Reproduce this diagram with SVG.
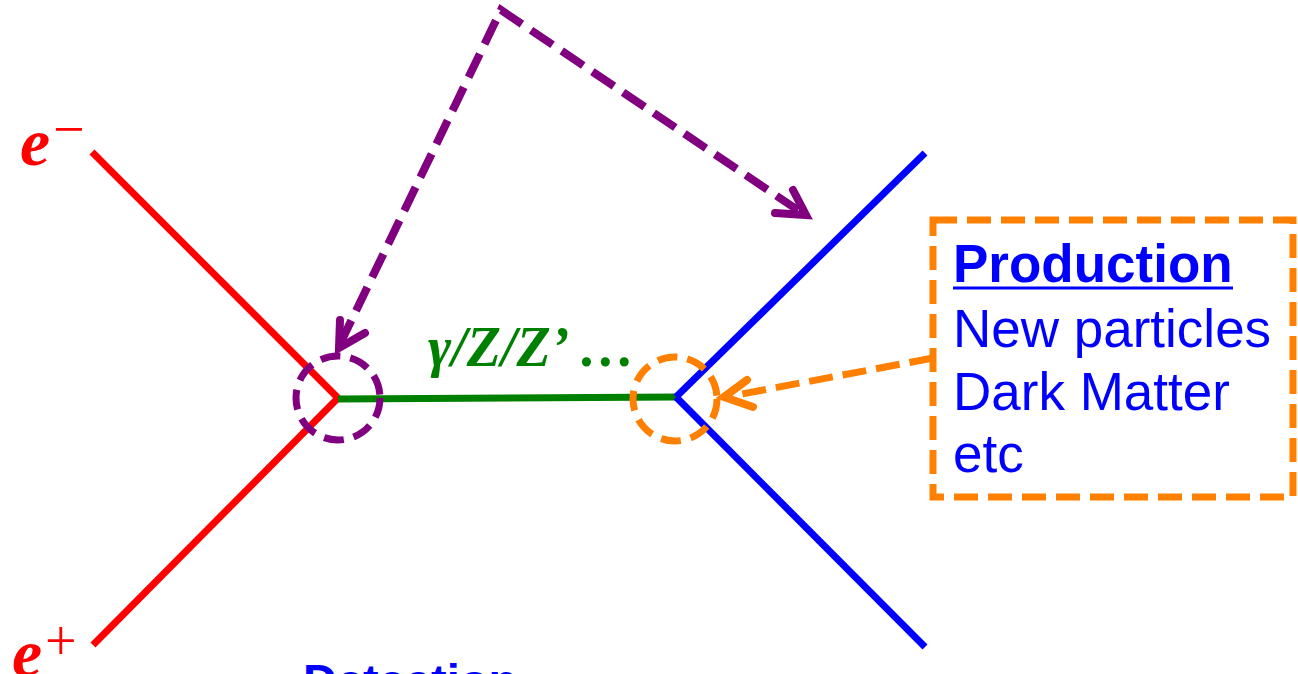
<svg xmlns="http://www.w3.org/2000/svg" width="1298" height="674" viewBox="0 0 1298 674">
<style>
.red{stroke:#FF0000;stroke-width:7;fill:none}
.blue{stroke:#0000FF;stroke-width:7;fill:none}
.green{stroke:#008000;stroke-width:7;fill:none}
.pur{stroke:#800080;stroke-width:8;fill:none;stroke-dasharray:26 11}
.purc{stroke:#800080;stroke-width:7;fill:none;stroke-dasharray:20 10}
.purh{stroke:#800080;stroke-width:8;fill:none;stroke-linecap:round;stroke-linejoin:miter}
.org{stroke:#FF8000;stroke-width:7;fill:none;stroke-dasharray:24 10}
.orgc{stroke:#FF8000;stroke-width:7;fill:none;stroke-dasharray:20 10}
.orgh{stroke:#FF8000;stroke-width:8;fill:none;stroke-linecap:round;stroke-linejoin:miter}
.lab{font-family:"Liberation Serif","Times New Roman",serif;font-weight:bold;font-style:italic}
.sans{font-family:"Liberation Sans",Arial,sans-serif;fill:#0000FF}
</style>
<rect width="1298" height="674" fill="#FFFFFF"/>
<g id="electron">
<line class="red" x1="92" y1="152" x2="338" y2="398"/>
<text class="lab" x="20" y="165" font-size="68" fill="#FF0000">e</text>
<text x="53" y="148" font-size="56" fill="#FF0000" font-family="'Liberation Serif','Times New Roman',serif">−</text>
</g>
<g id="positron">
<line class="red" x1="338" y1="398" x2="93" y2="645"/>
<text class="lab" x="12" y="676" font-size="68" fill="#FF0000">e</text>
<text x="45" y="660" font-size="56" fill="#FF0000" font-family="'Liberation Serif','Times New Roman',serif">+</text>
</g>
<g id="propagator">
<line class="green" x1="338" y1="399" x2="676" y2="397"/>
<text class="lab" x="428" y="366" font-size="56" fill="#008000">γ/Z/Z’ …</text>
</g>
<g id="outgoing">
<line class="blue" x1="676" y1="397" x2="925" y2="153"/>
<line class="blue" x1="676" y1="397" x2="925" y2="647"/>
</g>
<g id="detection-vertex">
<circle class="purc" cx="338" cy="398" r="42"/>
</g>
<g id="production-vertex">
<circle class="orgc" cx="675" cy="399" r="42"/>
</g>
<g id="production-box">
<rect class="org" x="933" y="220" width="360" height="277"/>
<text class="sans" x="953" y="282" font-size="53" font-weight="bold">Production</text>
<line x1="953" y1="288" x2="1233" y2="288" stroke="#0000FF" stroke-width="3"/>
<text class="sans" x="953" y="347" font-size="53">New particles</text>
<text class="sans" x="953" y="410" font-size="53">Dark Matter</text>
<text class="sans" x="953" y="472" font-size="53">etc</text>
</g>
<g id="detection-label">
<text class="sans" x="303" y="697" font-size="47" font-weight="bold">Detection</text>
</g>
<g id="connectors">
<path class="pur" d="M340,344 L501,10 L805,215"/>
<path class="purh" d="M340,320 L339,348 L365,333"/>
<path class="purh" d="M793,190 L806,215 L775,213"/>
<path class="org" d="M933,358 L726,397"/>
<path class="orgh" d="M747,380 L724,397 L753,407"/>
</g>
</svg>
